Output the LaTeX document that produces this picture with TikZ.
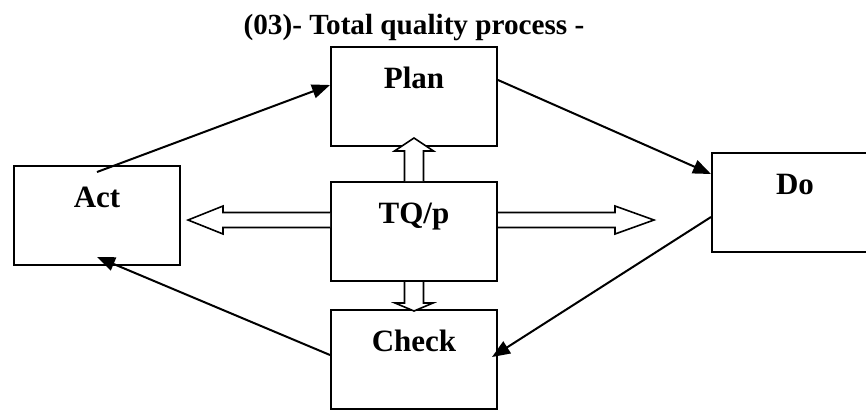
\documentclass[tikz,border=0pt]{standalone}
\usepackage{fontspec}
\setmainfont{Liberation Serif}
\usetikzlibrary{arrows.meta}

\begin{document}
\begin{tikzpicture}[
                    x=0.5pt, y=-0.5pt,
                    >={Triangle[length=9pt,width=7pt]},
                    every node/.append style={font=\fontsize{15.5}{18}\selectfont\bfseries},
                    box/.style={draw, line width=1pt, inner sep=0pt, minimum width=83pt,
                                text height=20.5pt, text depth=29pt, anchor=north west},
                    flow/.style={->, line width=1pt},
                    hollow/.style={draw, fill=white, line width=0.8pt, line join=miter}
                    ]
\useasboundingbox (0,0) rectangle (866,409);

\node[anchor=base, font=\fontsize{14.6}{17}\selectfont\bfseries] (title) at (414,34) {(03)- Total quality process -};

\node[box] (plan)  at (330,46)  {Plan};
\node[box] (tq)    at (330,181) {TQ/p};
\node[box] (check) at (330,309) {Check};
\node[box] (act)   at (13,165)  {Act};
\node[box] (do)    at (711,152) {Do};

\draw[hollow] (tq.north) ++(-9.5,0) -- ++(0,-30) -- ++(-10,0) -- ++(19.5,-13)
              -- ++(19.5,13) -- ++(-10,0) -- ++(0,30);
\draw[hollow] (tq.south) ++(-9.5,0) -- ++(0,21) -- ++(-9.5,0) -- ++(19,8)
              -- ++(19,-8) -- ++(-9.5,0) -- ++(0,-21);
\draw[hollow] ([yshift=5.75pt]tq.west) ++(0,-7.5) -- ++(-107,0) -- ++(0,-6.5) -- ++(-35,14)
              -- ++(35,14) -- ++(0,-6.5) -- ++(107,0);
\draw[hollow] ([yshift=5.75pt]tq.east) ++(0,-7.5) -- ++(117,0) -- ++(0,-6.5) -- ++(39,14)
              -- ++(-39,14) -- ++(0,-6.5) -- ++(-117,0);

\draw[flow] ([yshift=-3.5pt]act.north) -- ([yshift=5.75pt]plan.west);
\draw[flow] ([yshift=8.25pt]plan.east) -- ([yshift=14.25pt]do.west);
\draw[flow] ([yshift=-7.25pt]do.west)  -- ([xshift=-3pt,yshift=1.25pt]check.east);
\draw[flow] ([yshift=2.25pt]check.west) -- ([yshift=4.5pt]act.south);
\end{tikzpicture}
\end{document}
